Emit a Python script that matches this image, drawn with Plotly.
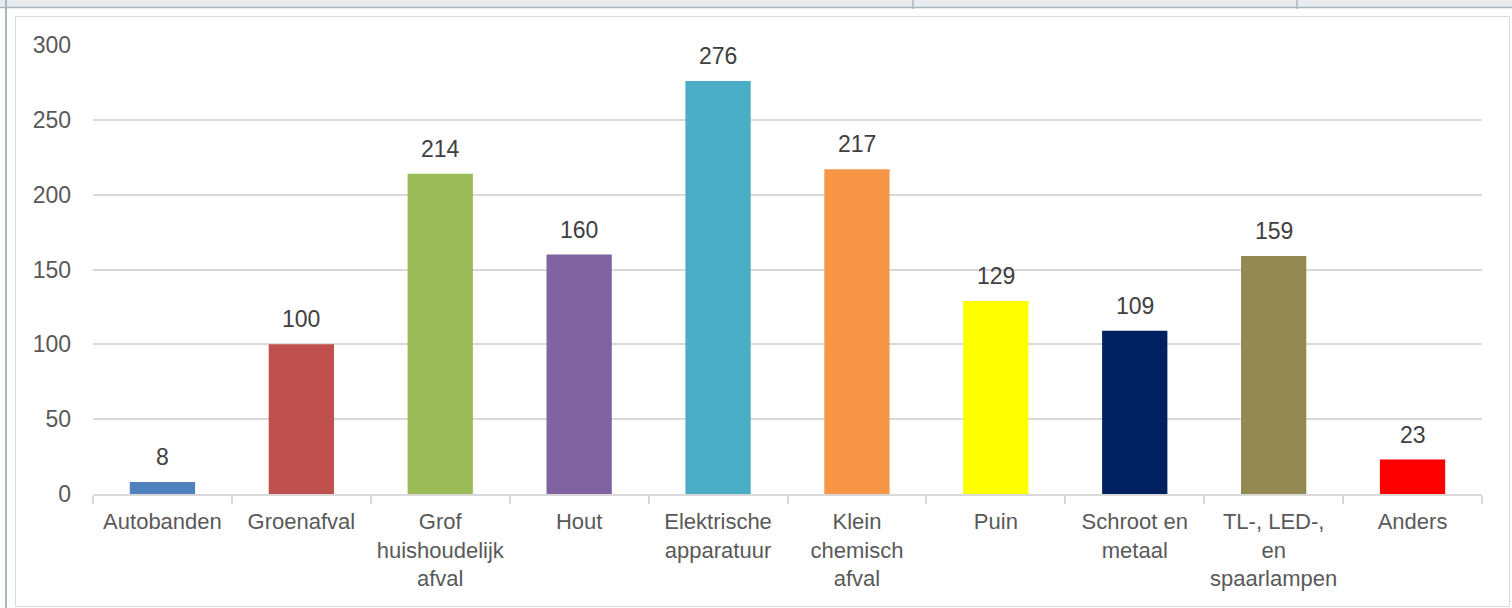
"""Afvalsoorten — staafdiagram met aantallen per categorie."""

import plotly.graph_objects as go

categories = [
    "Autobanden", "Groenafval", "Grof<br>huishoudelijk<br>afval", "Hout",
    "Elektrische<br>apparatuur", "Klein<br>chemisch<br>afval", "Puin",
    "Schroot en<br>metaal", "TL-, LED-,<br>en<br>spaarlampen", "Anders",
]
values = [8, 100, 214, 160, 276, 217, 129, 109, 159, 23]
bar_colors = [
    "#4F81BD", "#C0504D", "#9BBB59", "#8064A2", "#4BACC6",
    "#F79646", "#FFFF00", "#002060", "#938953", "#FF0000",
]
y_ticks = [0, 50, 100, 150, 200, 250, 300]

_FONT = "Liberation Sans, Arial, sans-serif"
_TICK = "#595959"
_GRID = "#D9D9D9"
_FRAME = "#A9B7BF"

W, H = 1512, 608
L, R, T, B = 93, 30, 45, 114
PW, PH = W - L - R, H - T - B


def px(x):
    return (x - L) / PW


def py(y):
    return (H - B - y) / PH


fig = go.Figure()
fig.add_trace(go.Bar(
    x=categories, y=values,
    marker=dict(color=bar_colors, line=dict(width=0)),
    width=0.47,
    hoverinfo="x+y",
))

for cat, val in zip(categories, values):
    fig.add_annotation(
        x=cat, y=val, text=str(val),
        showarrow=False, yanchor="bottom", yshift=10,
        font=dict(family=_FONT, size=23, color="#404040"),
    )

shapes = [
    # top strip
    dict(type="rect", xref="paper", yref="paper",
         x0=px(0), x1=px(W), y0=py(0), y1=py(7),
         fillcolor="#E8ECEE", line=dict(width=0), layer="below"),
    dict(type="line", xref="paper", yref="paper",
         x0=px(0), x1=px(W), y0=py(7.5), y1=py(7.5),
         line=dict(color=_FRAME, width=1.5)),
    dict(type="line", xref="paper", yref="paper",
         x0=px(913), x1=px(913), y0=py(0), y1=py(9),
         line=dict(color=_FRAME, width=1.5)),
    dict(type="line", xref="paper", yref="paper",
         x0=px(1297), x1=px(1297), y0=py(0), y1=py(9),
         line=dict(color=_FRAME, width=1.5)),
    # left rail
    dict(type="line", xref="paper", yref="paper",
         x0=px(6), x1=px(6), y0=py(0), y1=py(H),
         line=dict(color=_FRAME, width=2)),
    # chart border
    dict(type="rect", xref="paper", yref="paper",
         x0=px(15.5), x1=px(1509.5), y0=py(16.5), y1=py(606.5),
         line=dict(color=_GRID, width=1), fillcolor="rgba(0,0,0,0)"),
]

fig.update_layout(
    width=W, height=H,
    margin=dict(l=L, r=R, t=T, b=B, pad=0),
    paper_bgcolor="white", plot_bgcolor="white",
    font=dict(family=_FONT, size=22, color=_TICK),
    showlegend=False,
    bargap=0.53,
    shapes=shapes,
    xaxis=dict(
        showgrid=False, showline=True, linecolor=_GRID, linewidth=1.5,
        ticks="outside", tickson="boundaries", ticklen=8, tickcolor=_GRID,
        tickwidth=1.5, tickfont=dict(size=22, color=_TICK), tickangle=0,
        ticklabelstandoff=7, automargin=False,
    ),
    yaxis=dict(
        range=[0, 300], tickvals=y_ticks, showgrid=True, gridcolor=_GRID,
        gridwidth=1.5, zeroline=False, showline=False, ticks="",
        ticklabelstandoff=21, tickfont=dict(size=23, color=_TICK),
        automargin=False,
    ),
)

# the page body has a default 8px margin; drop it so the figure sits at 0,0
fig.write_html(
    "out.html",
    config={"displayModeBar": False},
    post_script="document.body.style.margin='0';",
)
